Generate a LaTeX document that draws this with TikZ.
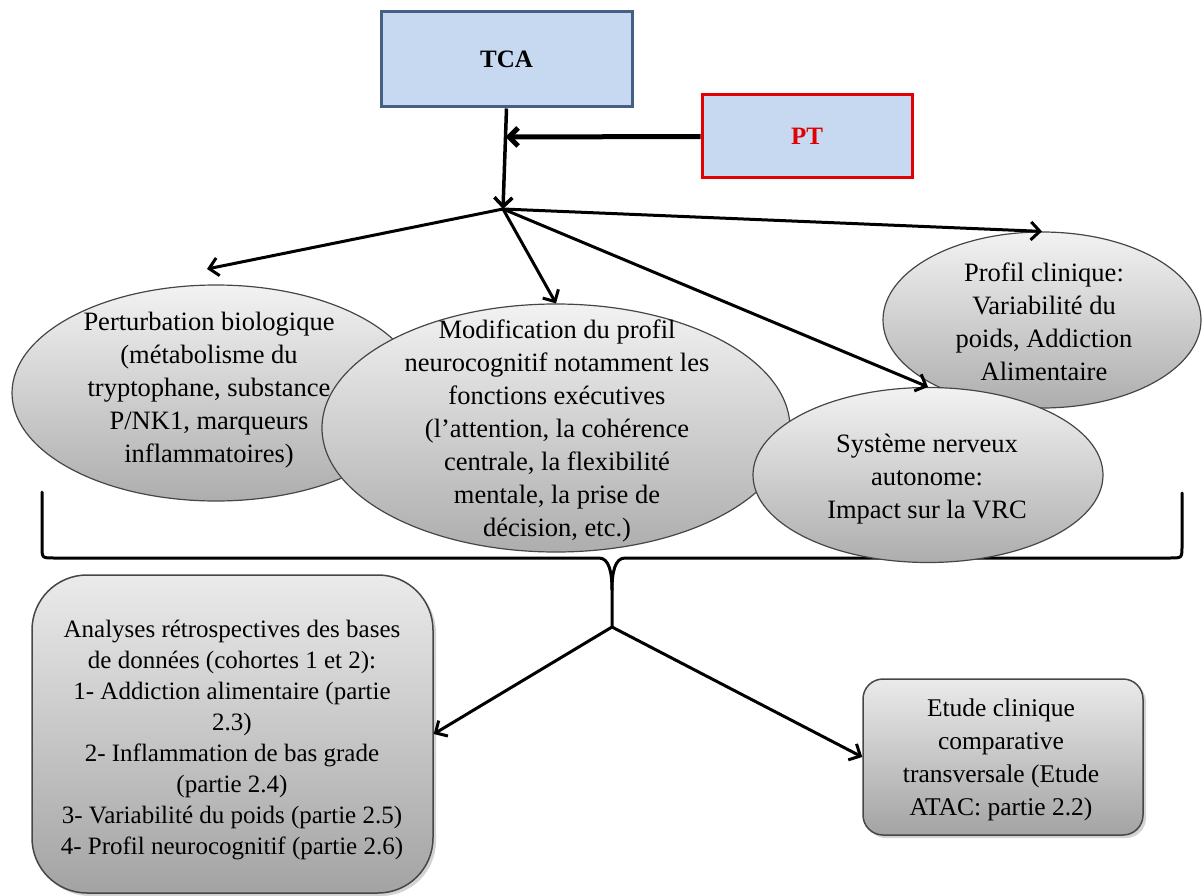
\documentclass[tikz,border=0pt]{standalone}
\usepackage{fontspec}
\setmainfont{Liberation Serif}
\usetikzlibrary{shapes.geometric,arrows.meta,shadows}
\definecolor{tcafill}{RGB}{198,217,241}
\definecolor{tcaborder}{RGB}{68,96,130}
\definecolor{ptred}{RGB}{226,0,0}
\definecolor{ellline}{RGB}{70,70,70}
\begin{document}
\begin{tikzpicture}[x=1pt,y=-1pt,
  bluebox/.style={rectangle, draw=tcaborder, line width=3pt, fill=tcafill, inner sep=0pt,
    font=\fontsize{25}{30}\selectfont\bfseries},
  ell/.style={ellipse, draw=ellline, line width=1.2pt, top color=black!5, bottom color=black!32, inner sep=0pt},
  elltext/.style={align=center, font=\fontsize{26.5}{33}\selectfont, inner sep=0pt},
  gbox/.style={rectangle, draw=ellline, line width=1.5pt, top color=black!8, bottom color=black!36,
    drop shadow={shadow xshift=3pt, shadow yshift=-3pt, opacity=0.35}, inner sep=0pt},
  boxtext/.style={align=center, inner sep=0pt},
  arr/.style={line width=3pt, -{Straight Barb[length=9pt,width=18pt]}},
  bracepath/.style={line width=3pt, line join=round, line cap=round}]
\useasboundingbox (0,0) rectangle (1202,896);

% top boxes
\node[bluebox, minimum width=251pt, minimum height=95pt] (tca) at (506.5,59.5) {TCA};
\node[bluebox, draw=ptred, text=ptred, minimum width=210pt, minimum height=83pt] (pt) at (807,136.5) {PT};

\coordinate (fan) at (503,209);
\coordinate (j) at (505.5,137);
\coordinate (e1in) at (207,269);
\coordinate (btip) at (612,627);

% brace
\draw[bracepath] (42,492) -- (42,546) .. controls (42,558) .. (54,558) -- (599,558)
  .. controls (609,558) and (612,572) .. (612,590) -- (btip);
\draw[bracepath] (1182,493) -- (1182,546) .. controls (1182,558) .. (1170,558) -- (625,558)
  .. controls (615,558) and (612,572) .. (612,590);

% ellipses
\node[ell, minimum width=408pt, minimum height=216pt] (e1) at (216,393) {};
\node[elltext] (e1t) at (209,390) {Perturbation biologique\\(métabolisme du\\tryptophane, substance\\P/NK1, marqueurs\\inflammatoires)};
\node[ell, minimum width=468pt, minimum height=248pt] (e2) at (556,428) {};
\node[elltext] (e2t) at (557,431) {Modification du profil\\neurocognitif notamment les\\fonctions exécutives\\(l’attention, la cohérence\\centrale, la flexibilité\\mentale, la prise de\\décision, etc.)};
\node[ell, minimum width=318pt, minimum height=176pt] (e4) at (1042,320) {};
\node[elltext] (e4t) at (1044,322) {Profil clinique:\\Variabilité du\\poids, Addiction\\Alimentaire};
\node[ell, minimum width=350pt, minimum height=175pt] (e3) at (928,475) {};
\node[elltext] (e3t) at (927,479) {Système nerveux\\autonome:\\Impact sur la VRC};

% bottom boxes
\node[gbox, rounded corners=55pt, minimum width=401pt, minimum height=318pt] (lb) at (232.5,734) {};
\node[boxtext, font=\fontsize{25}{31}\selectfont] (lbt) at (232,740) {Analyses rétrospectives des bases\\de données (cohortes 1 et 2):\\1- Addiction alimentaire (partie\\2.3)\\2- Inflammation de bas grade\\(partie 2.4)\\3- Variabilité du poids (partie 2.5)\\4- Profil neurocognitif (partie 2.6)};
\node[gbox, rounded corners=20pt, minimum width=280pt, minimum height=156pt] (rb) at (1003,757) {};
\node[boxtext, font=\fontsize{25.5}{33}\selectfont] (rbt) at (1001,760) {Etude clinique\\comparative\\transversale (Etude\\ATAC: partie 2.2)};

% arrows
\draw[arr, line width=3.5pt] (tca.south) -- (fan);
\draw[arr, line width=5pt] (pt.west) -- (j);
\draw[arr] (fan) -- (e1in);
\draw[arr] (fan) -- (e2.north);
\draw[arr] (fan) -- (e3.north);
\draw[arr] (fan) -- (e4.north);
\draw[arr] (btip) -- (lb.east);
\draw[arr] (btip) -- (rb.west);
\end{tikzpicture}
\end{document}
